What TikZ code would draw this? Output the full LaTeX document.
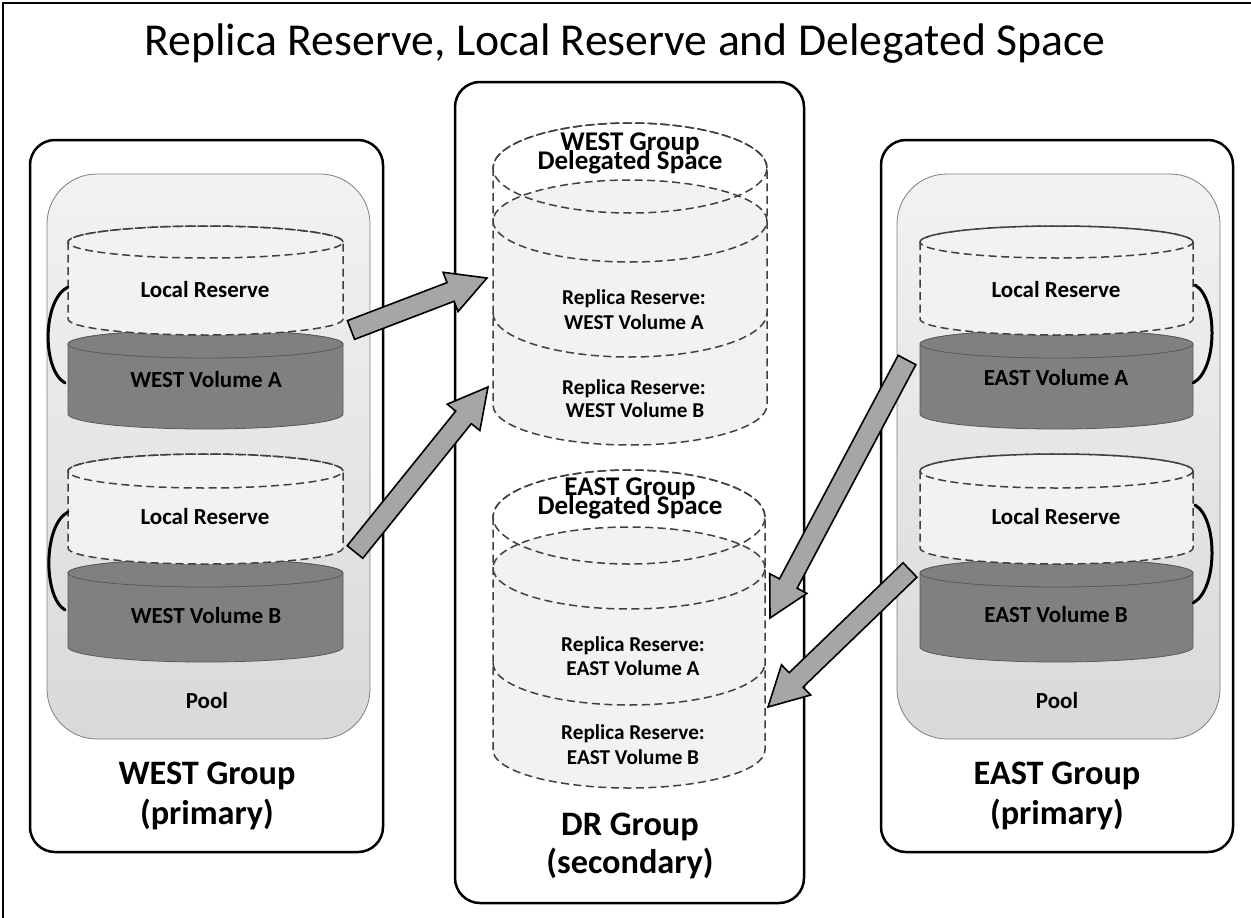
\documentclass[tikz,border=0pt]{standalone}
\usepackage{fontspec}
\setmainfont{Carlito}
\usetikzlibrary{calc}

\definecolor{dashgray}{HTML}{404040}
\definecolor{reservefill}{HTML}{F2F2F2}
\definecolor{volfill}{HTML}{808080}
\definecolor{voledge}{HTML}{595959}
\definecolor{arrowfill}{HTML}{A6A6A6}
\definecolor{pooledge}{HTML}{7F7F7F}

\tikzset{
  frameline/.style={draw=black, line width=2pt},
  groupbox/.style={draw=black, line width=2.5pt, rounded corners=25pt, fill=white},
  poolbox/.style={draw=pooledge, line width=0.8pt, rounded corners=50pt,
    top color=gray!10, bottom color=gray!30},
  dashline/.style={draw=dashgray, line width=1.5pt, dash pattern=on 8pt off 4.5pt},
  volline/.style={draw=voledge, line width=0.8pt},
  bracket/.style={draw=black, line width=3pt, line cap=round},
  blockarr/.style={draw=black, line width=1.6pt, fill=arrowfill},
  titletext/.style={font=\fontsize{45.7}{54}\selectfont, anchor=base, inner sep=0pt},
  smalllabel/.style={font=\bfseries\fontsize{23}{27}\selectfont, anchor=base, inner sep=0pt},
  replicalabel/.style={font=\bfseries\fontsize{21.2}{25}\selectfont, anchor=base, inner sep=0pt},
  spacelabel/.style={font=\bfseries\fontsize{27}{30}\selectfont, anchor=base, inner sep=0pt},
  grouplabel/.style={font=\bfseries\fontsize{34.3}{40}\selectfont, anchor=base, inner sep=0pt},
}

% cylinder outline: #1 cx, #2 rx, #3 top y, #4 bottom y, #5 top ry, #6 bottom ry, #7 style
\newcommand\cylbody[7]{%
  \path[#7] (#1-#2,#3) -- (#1-#2,#4)
    arc[start angle=180, end angle=360, x radius=#2pt, y radius=#6pt]
    -- (#1+#2,#3)
    arc[start angle=0, end angle=180, x radius=#2pt, y radius=#5pt] -- cycle;}
% full top ellipse: #1 cx, #2 rx, #3 y, #4 ry, #5 style
\newcommand\cyltop[5]{%
  \path[#5] (#1,#3) ellipse[x radius=#2pt, y radius=#4pt];}
% front half of an ellipse: #1 cx, #2 rx, #3 y, #4 ry, #5 style
\newcommand\cylfront[5]{%
  \path[#5] (#1-#2,#3) arc[start angle=180, end angle=360, x radius=#2pt, y radius=#4pt];}
% block arrow from #1 (tail) to #2 (tip)
\newcommand\blockarrow[2]{%
  \coordinate (ba-base) at ($(#2)!39pt!(#1)$);
  \draw[blockarr]
    ($(#1)!10pt!90:(#2)$) --
    ($(ba-base)!10pt!-90:(#1)$) --
    ($(ba-base)!21pt!-90:(#1)$) --
    (#2) --
    ($(ba-base)!21pt!90:(#1)$) --
    ($(ba-base)!10pt!90:(#1)$) --
    ($(#1)!10pt!-90:(#2)$) -- cycle;}

\begin{document}
\begin{tikzpicture}[x=1pt, y=-1pt]
\useasboundingbox (0,0) rectangle (1251,918);
\fill[white] (0,0) rectangle (1251,918);

% frame
\draw[frameline] (3,918) -- (3,3) -- (1251,3);

% title
\node[titletext] (title) at (625,55) {Replica Reserve, Local Reserve and Delegated Space};

% group boxes
\draw[groupbox] (30,140) rectangle (383,852);
\draw[groupbox] (455,82) rectangle (804,903);
\draw[groupbox] (881,140) rectangle (1233,852);

% pools
\draw[poolbox] (47,174) rectangle (370,739);
\draw[poolbox] (897,174) rectangle (1220,739);

% ---- WEST group volumes ----
\cylbody{205.5}{137.5}{344}{414}{14}{15}{volline, fill=volfill}
\cyltop{205.5}{137.5}{344}{14}{volline, fill=volfill}
\cylbody{205.5}{137.5}{242}{319}{16}{16}{dashline, fill=reservefill}
\cyltop{205.5}{137.5}{242}{16}{dashline}

\cylbody{205.5}{137.5}{573}{647}{14}{15}{volline, fill=volfill}
\cyltop{205.5}{137.5}{573}{14}{volline, fill=volfill}
\cylbody{205.5}{137.5}{471}{548}{17}{16}{dashline, fill=reservefill}
\cyltop{205.5}{137.5}{471}{17}{dashline}

\draw[bracket] (68,287) .. controls (42,300) and (42,370) .. (65,383);
\draw[bracket] (68,512) .. controls (43,525) and (43,597) .. (65,610);

% ---- EAST group volumes ----
\cylbody{1056.5}{136.5}{344}{414}{14}{15}{volline, fill=volfill}
\cyltop{1056.5}{136.5}{344}{14}{volline, fill=volfill}
\cylbody{1056.5}{136.5}{242}{319}{16}{16}{dashline, fill=reservefill}
\cyltop{1056.5}{136.5}{242}{16}{dashline}

\cylbody{1056.5}{136.5}{573}{647}{14}{15}{volline, fill=volfill}
\cyltop{1056.5}{136.5}{573}{14}{volline, fill=volfill}
\cylbody{1056.5}{136.5}{471}{548}{17}{16}{dashline, fill=reservefill}
\cyltop{1056.5}{136.5}{471}{17}{dashline}

\draw[bracket] (1195,285) .. controls (1218,298) and (1218,370) .. (1193,383);
\draw[bracket] (1195,505) .. controls (1218,518) and (1218,590) .. (1193,603);

% ---- DR group: delegated space for WEST ----
\cylbody{630}{137}{168}{405}{45}{40}{fill=white}
\cylbody{630}{137}{221}{405}{41}{40}{fill=reservefill}
\cylbody{630}{137}{168}{405}{45}{40}{dashline}
\cyltop{630}{137}{168}{45}{dashline}
\cyltop{630}{137}{221}{41}{dashline}
\cylfront{630}{137}{313}{44}{dashline}

% ---- DR group: delegated space for EAST ----
\cylbody{629}{136}{517}{750}{47}{38}{fill=white}
\cylbody{629}{136}{568}{750}{41}{38}{fill=reservefill}
\cylbody{629}{136}{517}{750}{47}{38}{dashline}
\cyltop{629}{136}{517}{47}{dashline}
\cyltop{629}{136}{568}{41}{dashline}
\cylfront{629}{136}{663}{42}{dashline}

% labels: WEST group
\node[smalllabel] (wlrA) at (205,297) {Local Reserve};
\node[smalllabel] (wvolA) at (206,387) {WEST Volume A};
\node[smalllabel] (wlrB) at (205,524) {Local Reserve};
\node[smalllabel] (wvolB) at (206,623) {WEST Volume B};
\node[smalllabel] (wpool) at (207,708) {Pool};
\node[grouplabel] (westname) at (207,784) {WEST Group};
\node[grouplabel] (westrole) at (207,824) {(primary)};

% labels: EAST group
\node[smalllabel] (elrA) at (1056,297) {Local Reserve};
\node[smalllabel] (evolA) at (1056,385) {EAST Volume A};
\node[smalllabel] (elrB) at (1056,524) {Local Reserve};
\node[smalllabel] (evolB) at (1056,622) {EAST Volume B};
\node[smalllabel] (epool) at (1057,708) {Pool};
\node[grouplabel] (eastname) at (1057,784) {EAST Group};
\node[grouplabel] (eastrole) at (1057,824) {(primary)};

% labels: DR group
\node[spacelabel] (dswname) at (630,150) {WEST Group};
\node[spacelabel] (dswspace) at (630,169) {Delegated Space};
\node[replicalabel] (rrwA1) at (634,304) {Replica Reserve:};
\node[replicalabel] (rrwA2) at (634,329) {WEST Volume A};
\node[replicalabel] (rrwB1) at (634,394) {Replica Reserve:};
\node[replicalabel] (rrwB2) at (635,417) {WEST Volume B};
\node[spacelabel] (dsename) at (630,495) {EAST Group};
\node[spacelabel] (dsespace) at (630,514) {Delegated Space};
\node[replicalabel] (rreA1) at (633,651) {Replica Reserve:};
\node[replicalabel] (rreA2) at (633,675) {EAST Volume A};
\node[replicalabel] (rreB1) at (633,739) {Replica Reserve:};
\node[replicalabel] (rreB2) at (633,764) {EAST Volume B};
\node[grouplabel] (drname) at (630,835) {DR Group};
\node[grouplabel] (drrole) at (630,873) {(secondary)};

% replication arrows
\coordinate (wA-out) at (351,330);
\coordinate (wB-out) at (355,552);
\coordinate (eA-out) at (907,360);
\coordinate (eB-out) at (910,570);
\coordinate (drwA-in) at (487,278);
\coordinate (drwB-in) at (488,387);
\coordinate (dreA-in) at (770,618);
\coordinate (dreB-in) at (768,707);
\blockarrow{wA-out}{drwA-in}
\blockarrow{wB-out}{drwB-in}
\blockarrow{eA-out}{dreA-in}
\blockarrow{eB-out}{dreB-in}
\end{tikzpicture}
\end{document}
